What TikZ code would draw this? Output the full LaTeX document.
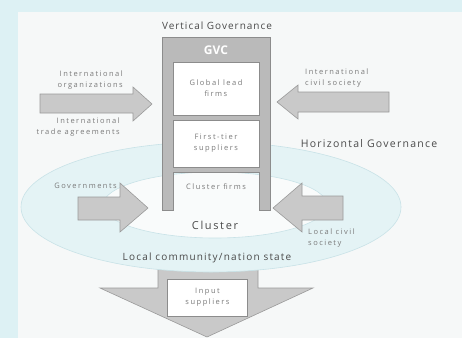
\documentclass[tikz,border=0pt]{standalone}
\usepackage{fontspec}
\setmainfont{Open Sans}
\definecolor{bgcyan}{HTML}{DDF1F4}
\definecolor{slide}{HTML}{F6F8F8}
\definecolor{arrowgray}{HTML}{C9C9C9}
\definecolor{arrowedge}{HTML}{9A9A9A}
\definecolor{gvcgray}{HTML}{BABABA}
\definecolor{gvcedge}{HTML}{8C8C8C}
\definecolor{ellfill}{HTML}{E4F3F5}
\definecolor{elledge}{HTML}{C8E2E7}
\definecolor{innerfill}{HTML}{F9FBFB}
\definecolor{headtext}{HTML}{4A4A4A}
\definecolor{smalltext}{HTML}{7A7A7A}
\definecolor{boxedge}{HTML}{8C8C8C}
\begin{document}
\begin{tikzpicture}[x=1pt,y=-1pt,
  blockarrow/.style={fill=arrowgray, draw=arrowedge, line width=0.6pt, line join=miter},
  smallfont/.style={font=\fontsize{7.5}{11}\selectfont\addfontfeature{LetterSpace=20}},
  whitebox/.style={smallfont, draw=boxedge, fill=white, line width=0.5pt, minimum width=86pt, align=center, text=smalltext, inner sep=0pt},
  small/.style={smallfont, text=smalltext, inner sep=0pt},
  heading/.style={font=\fontsize{10}{12}\selectfont\addfontfeature{LetterSpace=10}, text=headtext, inner sep=0pt}]
\useasboundingbox (0,0) rectangle (462,338);
\fill[bgcyan] (0,0) rectangle (462,338);
\fill[slide] (18,12) rectangle (462,338);
% bottom arrow (input suppliers)
\draw[blockarrow] (158,255) -- (258,255) -- (258,288) -- (313,288) -- (207,337) -- (100,288) -- (158,288) -- cycle;
% ellipses
\draw[fill=ellfill, draw=elledge, line width=0.6pt] (211,207) ellipse [x radius=190pt, y radius=65pt];
\draw[fill=innerfill, draw=elledge, line width=0.6pt] (215,205) ellipse [x radius=112pt, y radius=33pt];
% GVC column
\draw[fill=gvcgray, draw=gvcedge, line width=0.6pt] (162,37) -- (270,37) -- (270,210) -- (259,210) -- (259,172) -- (173,172) -- (173,210) -- (162,210) -- cycle;
\node[font=\bfseries\fontsize{12}{14}\selectfont, text=white] (gvc) at (216,50) {GVC};
\node[whitebox, minimum height=53pt] (lead) at (216,88.5) {Global lead\\firms};
\node[whitebox, minimum height=47pt] (tier) at (216,143.5) {First-tier\\suppliers};
\node[small] (cfirms) at (216,187) {Cluster firms};
\node[whitebox, minimum width=80pt, minimum height=37pt] (input) at (207.5,297.5) {Input\\suppliers};
% side arrows
\draw[blockarrow] (40,94) -- (133,94) -- (133,87) -- (152,104) -- (133,121) -- (133,113) -- (40,113) -- cycle;
\draw[blockarrow] (389,92) -- (298,92) -- (298,85) -- (277,102) -- (298,119) -- (298,112) -- (389,112) -- cycle;
\draw[blockarrow] (78,197) -- (120,197) -- (120,183) -- (148,208) -- (120,232) -- (120,220) -- (78,220) -- cycle;
\draw[blockarrow] (343,196) -- (302,196) -- (302,183) -- (273,208) -- (302,232) -- (302,220) -- (343,220) -- cycle;
% texts
\node[heading] (vg) at (217,26) {Vertical Governance};
\node[heading, font=\fontsize{10.5}{12}\selectfont\addfontfeature{LetterSpace=12}] (hg) at (369,144) {Horizontal Governance};
\node[small, align=right, anchor=east] (io) at (123,80) {International\\organizations};
\node[small, align=right, anchor=east] (ita) at (120,127) {International\\trade agreements};
\node[small, align=left, anchor=west] (ics) at (305,78) {International\\civil society};
\node[small, anchor=east] (gov) at (117,186) {Governments};
\node[small, align=left, anchor=west] (lcs) at (308,238) {Local civil\\society};
\node[font=\fontsize{11}{13}\selectfont\addfontfeature{LetterSpace=15}, text=headtext, inner sep=0pt] (cl) at (215,225) {Cluster};
\node[font=\fontsize{10}{12}\selectfont\addfontfeature{LetterSpace=12}, text=headtext, inner sep=0pt] (lc) at (207,258) {Local community/nation state};
\end{tikzpicture}
\end{document}
